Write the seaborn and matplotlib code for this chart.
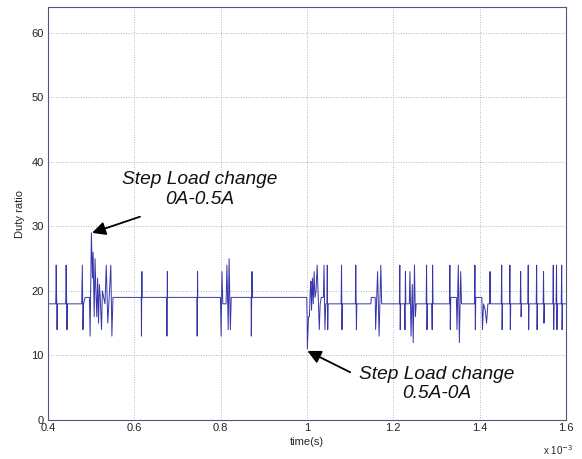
import matplotlib
matplotlib.use("Agg")
import matplotlib.pyplot as plt
import matplotlib.ticker as mticker
import seaborn as sns
import pandas as pd

# time in ms (axis shows x 10^-3 s), duty ratio values
time_ms = [
    0.400, 0.418, 0.419, 0.421, 0.422,
    0.441, 0.442, 0.444, 0.445,
    0.478, 0.4795, 0.481, 0.4825, 0.486, 0.496, 0.4975, 0.5005, 0.503, 0.5045,
    0.507, 0.509, 0.511, 0.513, 0.515, 0.517, 0.519, 0.521, 0.524, 0.526,
    0.529, 0.532, 0.535, 0.5385, 0.541, 0.5455, 0.548, 0.5505,
    0.616, 0.6165, 0.6175, 0.618,
    0.675, 0.6755, 0.6765, 0.677,
    0.745, 0.7455, 0.7465, 0.747,
    0.7995, 0.801, 0.803, 0.805, 0.8125, 0.8145, 0.8175, 0.8195, 0.8225, 0.8245,
    0.8705, 0.871, 0.8725, 0.8735,
    0.9993, 1.0003, 1.0008, 1.0018, 1.0035, 1.0055, 1.0075, 1.009, 1.0105,
    1.0125, 1.0145, 1.0165, 1.0185, 1.021, 1.0235, 1.026, 1.0285, 1.0305,
    1.033, 1.038, 1.0395, 1.0415, 1.0435,
    1.046, 1.047, 1.048, 1.049,
    1.079, 1.080, 1.081, 1.082,
    1.112, 1.113, 1.1145, 1.1155,
    1.148, 1.149, 1.158, 1.159, 1.1635, 1.167, 1.171, 1.173,
    1.214, 1.215, 1.216, 1.217,
    1.226, 1.227, 1.228, 1.229,
    1.237, 1.2385, 1.241, 1.244, 1.246, 1.249, 1.251, 1.253,
    1.276, 1.277, 1.278, 1.279,
    1.289, 1.290, 1.291, 1.292,
    1.330, 1.331, 1.332, 1.333, 1.346, 1.3475, 1.3505, 1.353, 1.356, 1.358,
    1.388, 1.389, 1.390, 1.391, 1.405, 1.4065, 1.409, 1.413, 1.416, 1.419,
    1.423, 1.424, 1.425,
    1.450, 1.451, 1.452, 1.453,
    1.469, 1.470, 1.471, 1.472,
    1.494, 1.495, 1.496, 1.497,
    1.5115, 1.5125, 1.5135, 1.5145,
    1.531, 1.532, 1.533, 1.534,
    1.547, 1.548, 1.549, 1.550,
    1.5695, 1.5705, 1.5715, 1.5725,
    1.577, 1.578, 1.579, 1.580,
    1.589, 1.590, 1.591, 1.592,
    1.600,
]
duty = [
    18, 18, 24, 14, 18,
    18, 24, 14, 18,
    18, 24, 14, 18, 19, 19, 13, 29, 22, 26,
    16, 25, 20, 16, 22, 15, 21, 19, 14, 20,
    19, 18, 24, 15, 18, 24, 13, 19,
    19, 13, 23, 19,
    19, 13, 23, 19,
    19, 13, 23, 19,
    19, 13, 23, 18, 18, 24, 14, 25, 14, 19,
    19, 13, 23, 19,
    19, 16, 11, 13, 16, 16, 20, 21.5, 17,
    22, 18, 23, 19, 20, 24, 19, 14, 18,
    19, 19, 24, 14, 18,
    18, 24, 14, 18,
    18, 24, 14, 18,
    18, 24, 14, 18,
    18, 19, 19, 14, 23, 13, 24, 18,
    18, 24, 14, 18,
    18, 14, 23, 18,
    18, 23, 13, 21, 12, 24, 16, 18,
    18, 24, 14, 18,
    18, 14, 24, 18,
    18, 24, 14, 19, 19, 14, 24, 12, 23, 18,
    18, 24, 14, 19, 19, 14, 18, 17, 15, 18,
    18, 23, 18,
    18, 24, 14, 18,
    18, 24, 14, 18,
    18, 23, 16, 18,
    18, 24, 14, 18,
    18, 24, 14, 18,
    18, 23, 15, 18,
    18, 24, 14, 18,
    18, 24, 14, 18,
    18, 24, 14, 18,
    18,
]

x_ticks = [0.4, 0.6, 0.8, 1.0, 1.2, 1.4, 1.6]
y_ticks = [0, 10, 20, 30, 40, 50, 60]

note1 = "Step Load change\n0A-0.5A"
note2 = "Step Load change\n0.5A-0A"

df = pd.DataFrame({"t": time_ms, "d": duty})

sns.set_theme(style="white")
plt.rcParams["font.family"] = ["Liberation Sans", "DejaVu Sans"]

fig = plt.figure(figsize=(5.82, 4.59), dpi=100)
ax = fig.add_axes([48 / 582, 1 - 420 / 459, (566 - 48) / 582, (420 - 7) / 459])

sns.lineplot(data=df, x="t", y="d", ax=ax, color="#3636a8", linewidth=0.7,
             estimator=None, sort=False)

ax.set_xlim(0.4, 1.6)
ax.set_ylim(0, 64)
ax.set_xticks(x_ticks)
ax.set_yticks(y_ticks)
ax.xaxis.set_major_formatter(mticker.FuncFormatter(lambda v, p: f"{v:g}"))
ax.tick_params(direction="in", length=3, labelsize=8, colors="#222222",
               width=0.6)
ax.tick_params(axis="x", pad=2)
ax.tick_params(axis="y", pad=3)
ax.grid(True, linestyle=(0, (1, 2)), color="#9a9ac0", linewidth=0.6)
for s in ax.spines.values():
    s.set_color("#55557a")
    s.set_linewidth(0.8)

ax.set_xlabel("time(s)", fontsize=8, labelpad=3)
ax.set_ylabel("Duty ratio", fontsize=8, labelpad=5)
ax.text(0.985, -0.072, r"x 10$^{-3}$", transform=ax.transAxes, ha="center",
        va="center", fontsize=7)

ax.text(0.752, 35.7, note1, fontsize=13.8, style="italic", ha="center",
        va="center", linespacing=1.2, color="#111111")
ax.text(1.301, 5.6, note2, fontsize=13.8, style="italic", ha="center",
        va="center", linespacing=1.2, color="#111111")

arrow = dict(arrowstyle="-|>", color="black", lw=1.3, mutation_scale=20,
             shrinkA=0, shrinkB=0)
ax.annotate("", xy=(0.502, 29.0), xytext=(0.613, 31.5), arrowprops=arrow)
ax.annotate("", xy=(1.001, 10.7), xytext=(1.100, 7.4), arrowprops=arrow)

fig.savefig("out.png", dpi=100)
